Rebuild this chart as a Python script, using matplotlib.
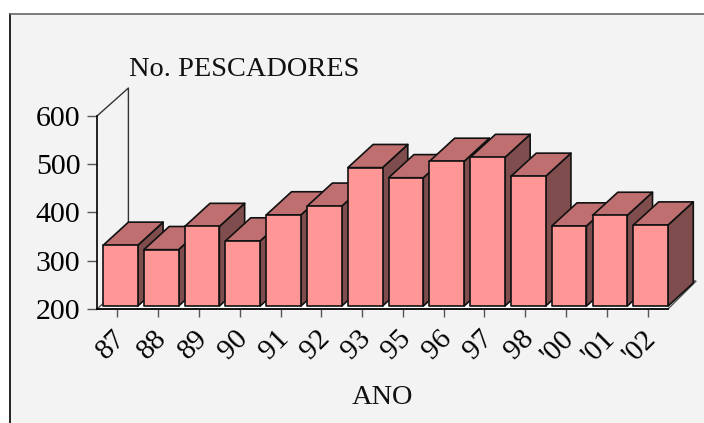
"""
pescadores per year, fake 3d bars
"""

import matplotlib
matplotlib.use('Agg')
import matplotlib.pyplot as plt
from matplotlib.patches import Polygon, Rectangle
from matplotlib.transforms import ScaledTranslation

plt.rcParams['font.family'] = ['Liberation Serif', 'DejaVu Serif']

years = ['87', '88', '89', '90', '91', '92', '93', '95', '96', '97', '98', "'00", "'01", "'02"]
pescadores = [326, 317, 365, 335, 389, 407, 487, 466, 500, 508, 469, 366, 388, 368]
y_ticks = [200, 300, 400, 500, 600]

W, H = 704, 423
BG = '#f3f3f3'
FRONT = '#ff9797'
TOP = '#bf6f6f'
SIDE = '#7f4d4d'

# depth of the box and of the bars, in data units
wall_dx, wall_dy = 0.77, 58
bar_dx, bar_dy = 0.62, 48
inset_x, inset_y = 0.15, 6
bar_w = 0.85

fig = plt.figure(figsize=(W / 100, H / 100), dpi=100, facecolor='white')

# grey panel with its frame
fig.patches.append(Rectangle((10 / W, -0.01), 1.01, (H - 14) / H + 0.01, transform=fig.transFigure,
                             facecolor=BG, edgecolor='none', zorder=-5))
fig.add_artist(plt.Line2D([10 / W, 10 / W], [0, (H - 14) / H], color='black', lw=1.2))
fig.add_artist(plt.Line2D([10 / W, 1], [(H - 14) / H, (H - 14) / H], color='#666666', lw=1.2))

ax = fig.add_axes([97 / W, (H - 309) / H, 571 / W, 193 / H])
ax.set_xlim(0, len(years))
ax.set_ylim(y_ticks[0], y_ticks[-1])
ax.patch.set_visible(False)
for s in ['top', 'right']:
    ax.spines[s].set_visible(False)
ax.spines['left'].set_linewidth(1.2)
ax.spines['bottom'].set_linewidth(1.2)

# floor and back wall
n = len(years)
ax.add_patch(Polygon([(0, 200), (n, 200), (n + 0.69, 200 + wall_dy), (wall_dx, 200 + wall_dy)],
                     closed=True, facecolor='white', edgecolor='#555555', lw=1, clip_on=False, zorder=1))
ax.plot([0, wall_dx, wall_dx], [600, 600 + wall_dy, 200 + wall_dy], color='#333333', lw=1,
        clip_on=False, zorder=1)

for i, v in enumerate(pescadores):
    x0 = i + inset_x
    x1 = x0 + bar_w
    y0 = 200 + inset_y
    y1 = v + inset_y
    z = 2 + i * 0.01
    kw = dict(closed=True, edgecolor='#111111', lw=1.2, clip_on=False, zorder=z, joinstyle='round')
    ax.add_patch(Polygon([(x1, y0), (x1 + bar_dx, y0 + bar_dy), (x1 + bar_dx, y1 + bar_dy), (x1, y1)],
                         facecolor=SIDE, **kw))
    ax.add_patch(Polygon([(x0, y1), (x1, y1), (x1 + bar_dx, y1 + bar_dy), (x0 + bar_dx, y1 + bar_dy)],
                         facecolor=TOP, **kw))
    ax.add_patch(Polygon([(x0, y0), (x1, y0), (x1, y1), (x0, y1)], facecolor=FRONT, **kw))

ax.set_xticks([i + 0.5 for i in range(n)])
ax.set_xticklabels(years, rotation=45, ha='right', va='top', rotation_mode='anchor', fontsize=21)
ax.set_yticks(y_ticks)
ax.tick_params(axis='y', length=7, width=1, color='#555555', labelsize=21.5, pad=5)
ax.tick_params(axis='x', length=6, width=1, color='#555555', pad=6)

# the rotated labels sit a bit left of their ticks
shift = ScaledTranslation(-5 / 100, 0, fig.dpi_scale_trans)
for t in ax.get_xticklabels():
    t.set_transform(t.get_transform() + shift)

fig.text(129 / W, (H - 76) / H, 'No. PESCADORES', fontsize=20.4, ha='left', va='baseline', color='#111111')
fig.text(382 / W, (H - 404) / H, 'ANO', fontsize=20.4, ha='center', va='baseline', color='#111111')

fig.savefig('out.png', dpi=100)
plt.close(fig)
